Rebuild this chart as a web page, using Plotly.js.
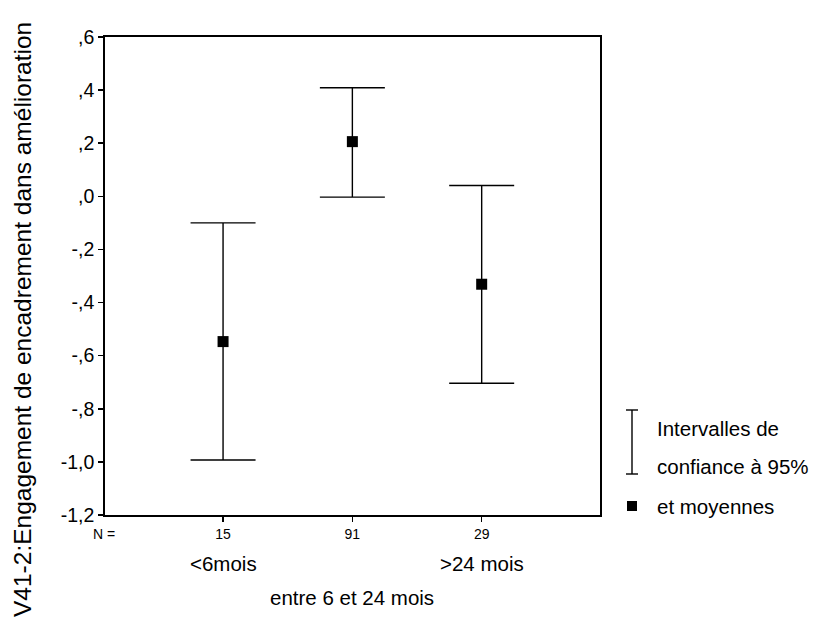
<!DOCTYPE html>
<html>
<head>
<meta charset="utf-8">
<script src="https://cdn.plot.ly/plotly-3.0.1.min.js"></script>
<style>html,body{margin:0;padding:0;background:#fff;}#chart{width:813px;height:632px;}</style>
</head>
<body>
<div id="chart"></div>
<script>
// ---- data ----
var positions = [1, 2, 3];
var groupLabels = ["<6mois", "entre 6 et 24 mois", ">24 mois"];
var nValues = ["15", "91", "29"];
var means = [-0.547, 0.206, -0.331];
var upper = [-0.100, 0.409, 0.041];
var lower = [-0.993, -0.003, -0.704];
var yTickVals = [-1.2, -1.0, -0.8, -0.6, -0.4, -0.2, 0.0, 0.2, 0.4, 0.6];
var yTickText = ["-1,2", "-1,0", "-,8", "-,6", "-,4", "-,2", ",0", ",2", ",4", ",6"];
var yTitle = "V41-2:Engagement de encadrement dans amélioration";
var legendLines = ["Intervalles de", "confiance à 95%", "et moyennes"];

var W = 813, H = 632, L = 105, R = 600, T = 37, B = 515;
var pw = R - L, ph = B - T;
function px(x) { return (x - L) / pw; }
function py(y) { return (B - y) / ph; }

var FONT = "Liberation Sans, Arial, sans-serif";

var trace = {
  type: "scatter",
  mode: "markers",
  x: positions,
  y: means,
  marker: { symbol: "square", size: 11, color: "#000", line: { width: 0 } },
  error_y: {
    type: "data",
    symmetric: false,
    array: upper.map(function (u, i) { return u - means[i]; }),
    arrayminus: lower.map(function (l, i) { return means[i] - l; }),
    color: "#000",
    thickness: 1.4,
    width: 32.5
  },
  hoverinfo: "skip",
  showlegend: false
};

var annotations = [];
annotations.push({ x: positions[0], y: py(563), xref: "x", yref: "paper", text: groupLabels[0], showarrow: false, xanchor: "center", yanchor: "middle", font: { family: FONT, size: 20.5, color: "#000" } });
annotations.push({ x: positions[1], y: py(597), xref: "x", yref: "paper", text: groupLabels[1], showarrow: false, xanchor: "center", yanchor: "middle", font: { family: FONT, size: 20.5, color: "#000" } });
annotations.push({ x: positions[2], y: py(563), xref: "x", yref: "paper", text: groupLabels[2], showarrow: false, xanchor: "center", yanchor: "middle", font: { family: FONT, size: 20.5, color: "#000" } });
annotations.push({ x: px(103.5), y: py(534), xref: "paper", yref: "paper", text: "N =", showarrow: false, xanchor: "center", yanchor: "middle", font: { family: FONT, size: 14, color: "#000" } });
annotations.push({ x: px(22), y: py(320), xref: "paper", yref: "paper", text: yTitle, textangle: -90, showarrow: false, xanchor: "center", yanchor: "middle", font: { family: FONT, size: 24.5, color: "#000" } });
var legY = [428, 466, 506];
legendLines.forEach(function (t, i) {
  annotations.push({ x: px(655), y: py(legY[i]), xref: "paper", yref: "paper", text: t, showarrow: false, xanchor: "left", yanchor: "middle", font: { family: FONT, size: 20.5, color: "#000" } });
});

var lx = 632, lTop = 410, lBot = 474, cap = 6;
var shapes = [
  { type: "line", xref: "paper", yref: "paper", x0: px(lx), x1: px(lx), y0: py(lBot), y1: py(lTop), line: { color: "#000", width: 1.4 } },
  { type: "line", xref: "paper", yref: "paper", x0: px(lx - cap), x1: px(lx + cap), y0: py(lTop), y1: py(lTop), line: { color: "#000", width: 1.4 } },
  { type: "line", xref: "paper", yref: "paper", x0: px(lx - cap), x1: px(lx + cap), y0: py(lBot), y1: py(lBot), line: { color: "#000", width: 1.4 } },
  { type: "rect", xref: "paper", yref: "paper", x0: px(lx - 5), x1: px(lx + 5), y0: py(511), y1: py(501), fillcolor: "#000", line: { width: 0 } }
];

var layout = {
  width: W, height: H,
  margin: { l: L, r: W - R, t: T, b: H - B, pad: 0 },
  paper_bgcolor: "#fff", plot_bgcolor: "#fff",
  showlegend: false,
  font: { family: FONT, color: "#000" },
  xaxis: {
    range: [0.087, 3.915],
    tickvals: positions, ticktext: nValues,
    ticks: "outside", ticklen: 5, tickwidth: 1.5, tickcolor: "#000",
    showline: true, linecolor: "#000", linewidth: 1.8, mirror: true,
    showgrid: false, zeroline: false,
    tickfont: { family: FONT, size: 14, color: "#000" },
    fixedrange: true
  },
  yaxis: {
    range: [-1.2, 0.6],
    tickvals: yTickVals, ticktext: yTickText,
    ticks: "outside", ticklen: 5, tickwidth: 1.5, tickcolor: "#000",
    showline: true, linecolor: "#000", linewidth: 1.8, mirror: true,
    showgrid: false, zeroline: false,
    tickfont: { family: FONT, size: 19.5, color: "#000" },
    fixedrange: true
  },
  annotations: annotations,
  shapes: shapes
};

Plotly.newPlot("chart", [trace], layout, { displayModeBar: false, staticPlot: true });
</script>
</body>
</html>
